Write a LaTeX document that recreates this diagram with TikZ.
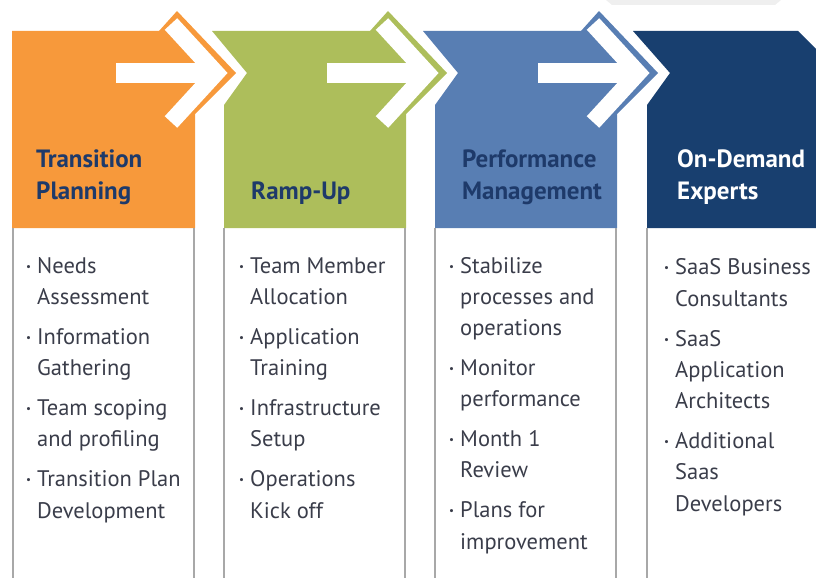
\documentclass[tikz,border=0pt]{standalone}
\usepackage{fontspec}
\setmainfont{PT Sans}
\definecolor{planorange}{HTML}{F7993B}
\definecolor{rampgreen}{HTML}{ADBE5B}
\definecolor{perfblue}{HTML}{587EB3}
\definecolor{expertnavy}{HTML}{183F6F}
\definecolor{headblue}{HTML}{1E3A6A}
\definecolor{itemgrey}{HTML}{3A3D4A}
\definecolor{rulegrey}{HTML}{A8A8A8}
\definecolor{topgrey}{HTML}{EFEFEF}
\newcommand{\bul}{\llap{\raisebox{3pt}{\fontsize{11}{11}\selectfont\textbullet}\hspace{6pt}}}

\begin{document}
\begin{tikzpicture}[x=1pt,y=-1pt]
			\tikzstyle{heading} = [anchor=base west, inner sep=0pt, align=left, font=\bfseries\fontsize{25}{32}\selectfont, text=headblue]
			\tikzstyle{items}   = [anchor=base west, inner sep=0pt, align=left, font=\fontsize{22.5}{31.3}\selectfont, text=itemgrey]
			\tikzstyle{rule}    = [draw=rulegrey, line width=1.5pt]

			\useasboundingbox (0,0) rectangle (816,578);
			\clip (0,0) rectangle (816,578);

			\fill[topgrey] (606,0) -- (781,0) -- (775,5) -- (612,5) -- cycle;

			% header panels
			\fill[planorange] (12,31) -- (159,31) -- (177,11) -- (236,73) -- (195,114) -- (195,228) -- (12,228) -- cycle;
			\foreach \col/\dx in {rampgreen/211, perfblue/422}
				\fill[\col, xshift=\dx] (1,31) -- (159,31) -- (177,11) -- (236,73) -- (195,114) -- (195,228)
					-- (13,228) -- (13,105) -- (36,73) -- cycle;
			\fill[expertnavy] (633,31) -- (798,31) -- (840,73) -- (840,228) -- (647,228) -- (647,105) -- (670,73) -- cycle;

			% white arrows
			\foreach \dx in {0, 211, 422} {
				\draw[white, line width=17pt, line join=miter, xshift=\dx] (171,24) -- (216,73) -- (171,122);
				\fill[white, xshift=\dx] (116,63) rectangle (205,83);
			}

			% list boxes
			\foreach \x in {13, 194, 224, 405, 435, 616, 647}
				\draw[rule] (\x,228) -- (\x,578);

			% nodes sit on the baseline of their last line
			\node[heading] (plan) at (36,199) {Transition\\Planning};
			\node[heading] (ramp) at (251,199) {Ramp-Up};
			\node[heading] (perf) at (462,199) {Performance\\Management};
			\node[heading, text=white] (expert) at (677,199) {On-Demand\\Experts};

			\node[items] (plan list) at (37,518) {\bul Needs\\Assessment\\[8.5pt]\bul Information\\Gathering\\[8.5pt]\bul Team scoping\\and profiling\\[8.5pt]\bul Transition Plan\\Development};
			\node[items] (ramp list) at (250,518) {\bul Team Member\\Allocation\\[8.5pt]\bul Application\\Training\\[8.5pt]\bul Infrastructure\\Setup\\[8.5pt]\bul Operations\\Kick off};
			\node[items] (perf list) at (460,549) {\bul Stabilize\\processes and\\operations\\[8.5pt]\bul Monitor\\performance\\[8.5pt]\bul Month 1\\Review\\[8.5pt]\bul Plans for\\improvement};
			\node[items] (expert list) at (675,511) {\bul SaaS Business\\Consultants\\[8.5pt]\bul SaaS\\Application\\Architects\\[8.5pt]\bul Additional\\Saas\\Developers};
		\end{tikzpicture}
\end{document}
